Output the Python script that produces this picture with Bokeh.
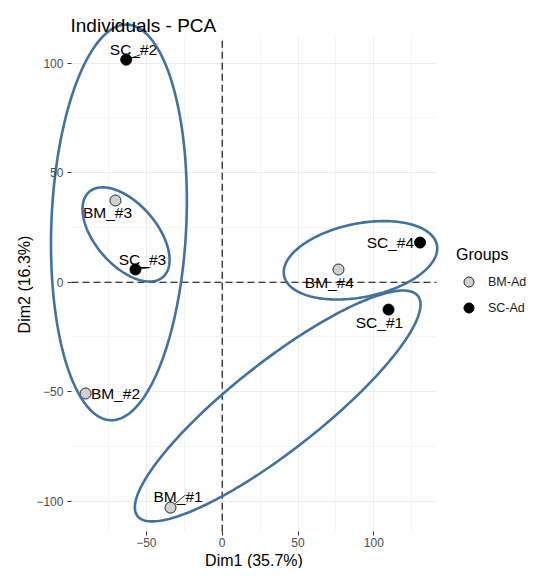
import numpy as np
from bokeh.plotting import figure
from bokeh.models import (ColumnDataSource, Range1d, FixedTicker, LinearAxis, Grid,
                          Legend, LegendItem, Label)
from bokeh.core.properties import value
from bokeh.embed import file_html
from bokeh.resources import INLINE

# ---- data ----
names = ["BM_#1", "BM_#2", "BM_#3", "BM_#4", "SC_#1", "SC_#2", "SC_#3", "SC_#4"]
groups = ["BM-Ad", "BM-Ad", "BM-Ad", "BM-Ad", "SC-Ad", "SC-Ad", "SC-Ad", "SC-Ad"]
dim1 = [-34.1, -90.1, -70.4, 76.7, 109.7, -63.3, -57.2, 130.5]
dim2 = [-102.9, -50.8, 37.3, 5.8, -12.5, 101.6, 5.8, 18.1]
label_x = [-29.1, -70.4, -75.6, 70.7, 103.7, -58.5, -52.6, 110.9]
label_y = [-97.9, -50.8, 31.8, -0.1, -18.4, 106.3, 10.4, 18.1]

seg_x0 = [-34.1, -63.3, -57.2]
seg_y0 = [-102.9, 101.6, 5.8]
seg_x1 = [-24.2, -53.9, -47.3]
seg_y1 = [-97.1, 103.8, 6.7]

# hand-drawn ellipses: centre, half extents and tilt (correlation)
ell_cx = [-68.1, -63.4, 91.2, 36.6]
ell_cy = [27.3, 21.8, 10.0, -56.5]
ell_sx = [44.8, 28.7, 50.6, 94.2]
ell_sy = [90.3, 21.5, 17.9, 52.7]
ell_rho = [0.110, -0.538, 0.304, 0.878]

x_lim = (-99.4, 141.3)     # panel limits
y_lim = (-113.9, 111.7)
x_ticks = [-50, 0, 50, 100]
x_tick_labels = ["\u221250", "0", "50", "100"]
x_minor = [-75, -25, 25, 75, 125]
y_ticks = [-100, -50, 0, 50, 100]
y_tick_labels = ["\u2212100", "\u221250", "0", "50", "100"]
y_minor = [-75, -25, 25, 75]

FONT = "Liberation Sans"
W, H = 528, 568

# the frame covers the whole canvas so the hand-drawn ellipses may cross the panel edge
p = figure(width=W, height=H,
           x_range=Range1d(-146.2, 202.0), y_range=Range1d(-130.7, 128.6),
           x_axis_type=None, y_axis_type=None, title=None,
           output_backend="svg", toolbar_location=None, min_border=0)
p.outline_line_color = None
p.background_fill_color = "white"
p.border_fill_color = "white"

xt = FixedTicker(ticks=x_ticks, minor_ticks=x_minor)
yt = FixedTicker(ticks=y_ticks, minor_ticks=y_minor)

# grids limited to the panel
if "cross_bounds" in Grid.properties():
    for dim, tk, cb in ((0, xt, y_lim), (1, yt, x_lim)):
        g = Grid(dimension=dim, ticker=tk, cross_bounds=cb,
                 grid_line_color="#EBEBEB", grid_line_width=1.2,
                 minor_grid_line_color="#F2F2F2", minor_grid_line_width=0.8)
        p.add_layout(g)
else:
    p.segment(x0=x_minor, y0=[y_lim[0]] * len(x_minor), x1=x_minor, y1=[y_lim[1]] * len(x_minor),
              line_color="#F2F2F2", line_width=0.8)
    p.segment(x0=[x_lim[0]] * len(y_minor), y0=y_minor, x1=[x_lim[1]] * len(y_minor), y1=y_minor,
              line_color="#F2F2F2", line_width=0.8)
    p.segment(x0=x_ticks, y0=[y_lim[0]] * len(x_ticks), x1=x_ticks, y1=[y_lim[1]] * len(x_ticks),
              line_color="#EBEBEB", line_width=1.2)
    p.segment(x0=[x_lim[0]] * len(y_ticks), y0=y_ticks, x1=[x_lim[1]] * len(y_ticks), y1=y_ticks,
              line_color="#EBEBEB", line_width=1.2)

# axes pinned to the panel edges
xaxis = LinearAxis(ticker=xt, fixed_location=y_lim[0], bounds=x_lim, axis_label="Dim1 (35.7%)")
yaxis = LinearAxis(ticker=yt, fixed_location=x_lim[0], bounds=y_lim, axis_label="Dim2 (16.3%)")
xaxis.major_label_overrides = {t: l for t, l in zip(x_ticks, x_tick_labels)}
yaxis.major_label_overrides = {t: l for t, l in zip(y_ticks, y_tick_labels)}
for ax in (xaxis, yaxis):
    ax.axis_line_color = None
    ax.major_tick_line_color = "#333333"
    ax.major_tick_out = 4
    ax.major_tick_in = 0
    ax.minor_tick_line_color = None
    ax.major_label_text_font = FONT
    ax.major_label_text_font_size = "12px"
    ax.major_label_text_color = "#4D4D4D"
    ax.axis_label_text_font = FONT
    ax.axis_label_text_font_size = "16px"
    ax.axis_label_text_font_style = "normal"
    ax.axis_label_text_color = "black"
xaxis.major_label_standoff = 2
xaxis.axis_label_standoff = 2
yaxis.major_label_standoff = 4
yaxis.axis_label_standoff = 0
p.add_layout(xaxis, "below")
p.add_layout(yaxis, "left")

# zero reference lines across the panel
p.segment(x0=[0, x_lim[0]], y0=[y_lim[0], 0], x1=[0, x_lim[1]], y1=[y_lim[1], 0],
          line_color="black", line_dash="7 4", line_width=1.1)

src = ColumnDataSource(dict(name=names, group=groups, x=dim1, y=dim2, lx=label_x, ly=label_y))
bm_idx = [i for i, g in enumerate(groups) if g == "BM-Ad"]
sc_idx = [i for i, g in enumerate(groups) if g == "SC-Ad"]
src_bm = ColumnDataSource(dict(x=[dim1[i] for i in bm_idx], y=[dim2[i] for i in bm_idx]))
src_sc = ColumnDataSource(dict(x=[dim1[i] for i in sc_idx], y=[dim2[i] for i in sc_idx]))

p.segment(x0=seg_x0, y0=seg_y0, x1=seg_x1, y1=seg_y1, line_color="black", line_width=0.8)
r_bm = p.scatter("x", "y", source=src_bm, size=11, fill_color="#D0D0D0",
                 line_color="#222222", line_width=1)
r_sc = p.scatter("x", "y", source=src_sc, size=11, fill_color="black", line_color="black")
p.text(x="lx", y="ly", text="name", source=src, text_font=value(FONT),
       text_font_size="15.5px", text_align="center", text_baseline="middle", text_color="black")

# ellipses
t = np.linspace(0, 2 * np.pi, 241)
exs, eys = [], []
for cx, cy, sx, sy, rho in zip(ell_cx, ell_cy, ell_sx, ell_sy, ell_rho):
    d = np.arccos(rho)
    exs.append(list(cx + sx * np.cos(t)))
    eys.append(list(cy + sy * np.cos(t - d)))
p.patches(xs=exs, ys=eys, fill_color=None, line_color="#41719C", line_width=2.6)

# title
p.add_layout(Label(x=70, y=H - 25, x_units="screen", y_units="screen",
                   text="Individuals - PCA", text_font=FONT, text_font_size="19px",
                   text_color="black", text_baseline="alphabetic", text_align="left"))

legend = Legend(items=[LegendItem(label="BM-Ad", renderers=[r_bm]),
                       LegendItem(label="SC-Ad", renderers=[r_sc])],
                title="Groups", location=(456, 248))
legend.padding = 0
legend.margin = 0
legend.border_line_color = None
legend.background_fill_alpha = 0
legend.title_text_font = FONT
legend.title_text_font_size = "16px"
legend.title_text_font_style = "normal"
legend.title_text_color = "black"
legend.title_standoff = 5
legend.label_text_font = FONT
legend.label_text_font_size = "12.5px"
legend.label_text_color = "#1A1A1A"
legend.glyph_width = 25
legend.glyph_height = 25
legend.label_height = 25
legend.spacing = 1
legend.label_standoff = 7
p.add_layout(legend)

open("out.html", "w").write(file_html(p, INLINE))
